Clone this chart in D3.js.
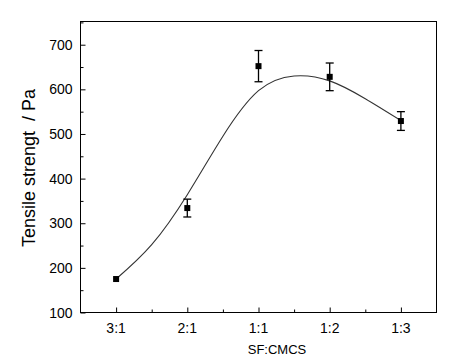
<!DOCTYPE html>
<html>
<head>
<meta charset="utf-8">
<script src="https://cdn.jsdelivr.net/npm/d3@7/dist/d3.min.js"></script>
<style>
  body { margin: 0; background: #fff; }
  svg text { font-family: "Liberation Sans", Arial, sans-serif; fill: #000; }
</style>
</head>
<body>
<script>
//data
var ratios = ["3:1", "2:1", "1:1", "1:2", "1:3"];
var strength = [175, 334, 652, 628, 529];
var errors = [3, 20, 35, 31, 21];

//fitted curve, sampled along the x axis (category position, value)
var fitX = [1, 1.5, 2, 2.5, 3, 3.5, 4, 4.5, 5];
var fitY = [175, 252, 364, 495, 597, 630, 619, 579, 530];

var yTicks = [100, 200, 300, 400, 500, 600, 700];

//layout (plot_top etc, because "top" is taken by window.top)
var width = 466, height = 361;
var plot_left = 80.5, plot_right = 436.5, plot_top = 21.5, plot_bottom = 312.5;

var svg = d3.select("body").append("svg")
    .attr("width", width)
    .attr("height", height);

var x = d3.scaleLinear().domain([0.5, 5.5]).range([plot_left, plot_right]);
var y = d3.scaleLinear().domain([100, 752]).range([plot_bottom, plot_top]);

//frame
svg.append("rect")
    .attr("x", plot_left).attr("y", plot_top)
    .attr("width", plot_right - plot_left).attr("height", plot_bottom - plot_top)
    .attr("fill", "none").attr("stroke", "#000").attr("stroke-width", 1);

//y axis, ticks pointing inward
svg.append("g")
    .attr("transform", "translate(" + plot_left + ",0)")
    .call(d3.axisRight(y).tickValues(yTicks).tickSize(5).tickFormat(""))
    .select(".domain").remove();
svg.append("g")
    .attr("transform", "translate(" + plot_left + ",0)")
    .call(d3.axisRight(y).tickValues(d3.range(150, 751, 100)).tickSize(3).tickFormat(""))
    .select(".domain").remove();

svg.selectAll(".ylab")
    .data(yTicks)
    .enter()
    .append("text")
    .attr("x", plot_left - 8)
    .attr("y", function (d) { return y(d) + 5; })
    .attr("text-anchor", "end")
    .style("font-size", "14px")
    .text(function (d) { return d; });

//x axis
svg.append("g")
    .attr("transform", "translate(0," + plot_bottom + ")")
    .call(d3.axisTop(x).tickValues([1, 2, 3, 4, 5]).tickSize(5).tickFormat(""))
    .select(".domain").remove();
svg.append("g")
    .attr("transform", "translate(0," + plot_bottom + ")")
    .call(d3.axisTop(x).tickValues([1.5, 2.5, 3.5, 4.5]).tickSize(3).tickFormat(""))
    .select(".domain").remove();

svg.selectAll(".xlab")
    .data(ratios)
    .enter()
    .append("text")
    .attr("x", function (d, i) { return x(i + 1); })
    .attr("y", plot_bottom + 20)
    .attr("text-anchor", "middle")
    .style("font-size", "14px")
    .text(function (d) { return d; });

svg.selectAll(".tick line").attr("stroke", "#000");

//axis titles
svg.append("text")
    .attr("x", 277)
    .attr("y", 354)
    .attr("text-anchor", "middle")
    .style("font-size", "13px")
    .text("SF:CMCS");

svg.append("text")
    .attr("transform", "translate(35,168) rotate(-90)")
    .attr("text-anchor", "middle")
    .style("font-size", "18px")
    .style("white-space", "pre")
    .text("Tensile strengt  / Pa");

//fitted curve
var fit = fitX.map(function (d, i) { return [d, fitY[i]]; });
var line = d3.line()
    .x(function (d) { return x(d[0]); })
    .y(function (d) { return y(d[1]); })
    .curve(d3.curveNatural);

svg.append("path")
    .datum(fit)
    .attr("d", line)
    .attr("fill", "none")
    .attr("stroke", "#333")
    .attr("stroke-width", 1.1);

//error bars
var pts = strength.map(function (d, i) { return { x: i + 1, v: d, e: errors[i] }; });
var eb = svg.append("g").attr("stroke", "#000").attr("stroke-width", 1.3);
eb.selectAll(".stem")
    .data(pts)
    .enter()
    .append("line")
    .attr("x1", function (d) { return x(d.x); })
    .attr("x2", function (d) { return x(d.x); })
    .attr("y1", function (d) { return y(d.v - d.e); })
    .attr("y2", function (d) { return y(d.v + d.e); });
eb.selectAll(".capTop")
    .data(pts.filter(function (d) { return d.e > 5; }))
    .enter()
    .append("line")
    .attr("x1", function (d) { return x(d.x) - 4; })
    .attr("x2", function (d) { return x(d.x) + 4; })
    .attr("y1", function (d) { return y(d.v + d.e); })
    .attr("y2", function (d) { return y(d.v + d.e); });
eb.selectAll(".capBot")
    .data(pts.filter(function (d) { return d.e > 5; }))
    .enter()
    .append("line")
    .attr("x1", function (d) { return x(d.x) - 4; })
    .attr("x2", function (d) { return x(d.x) + 4; })
    .attr("y1", function (d) { return y(d.v - d.e); })
    .attr("y2", function (d) { return y(d.v - d.e); });

//square markers
svg.selectAll(".pt")
    .data(pts)
    .enter()
    .append("rect")
    .attr("x", function (d) { return x(d.x) - 3; })
    .attr("y", function (d) { return y(d.v) - 3; })
    .attr("width", 6)
    .attr("height", 6)
    .attr("fill", "#000");
</script>
</body>
</html>
